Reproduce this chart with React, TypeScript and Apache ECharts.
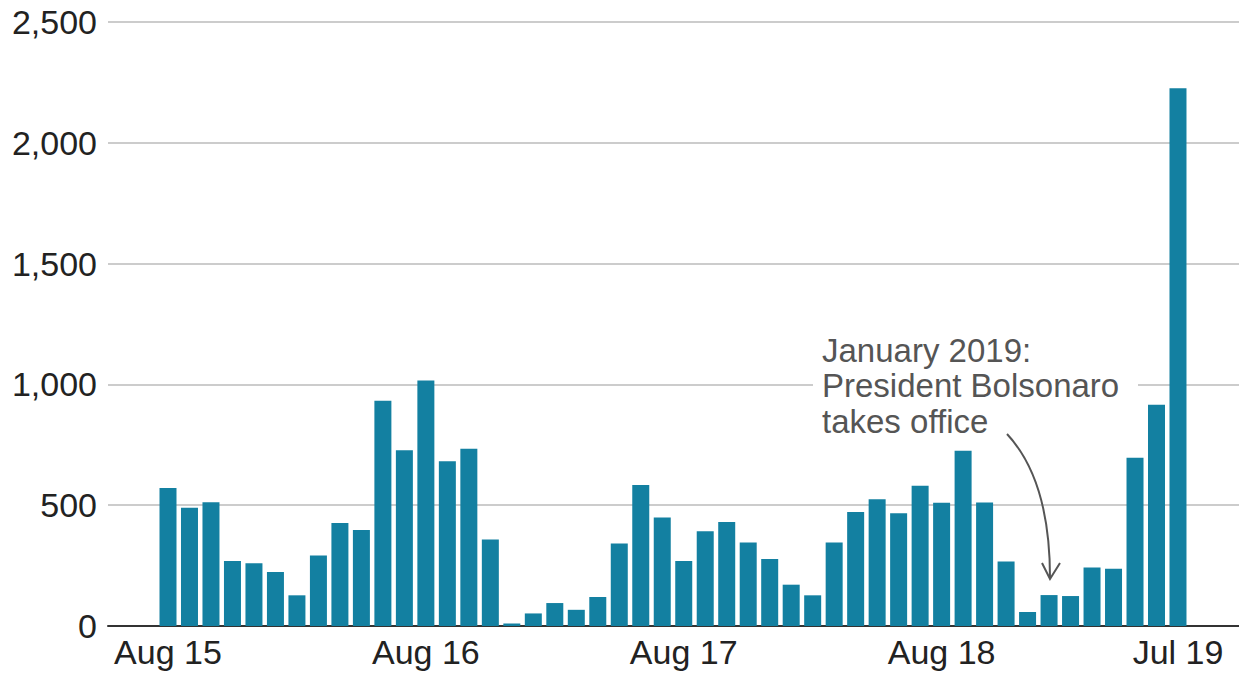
import React, { useEffect, useRef } from "react";
import * as echarts from "echarts";

const values: number[] = [
  571, 489, 512, 269, 260, 223, 127, 292, 426, 397, 932, 727, 1016, 682, 734, 358,
  10, 52, 95, 67, 120, 341, 584, 449, 269, 392, 430, 346, 277, 171, 127, 346,
  472, 525, 467, 581, 510, 725, 511, 267, 58, 128, 124, 242, 237, 696, 916, 2226,
];
const tickIndices: number[] = [0, 12, 24, 36, 47];
const tickLabels: string[] = ["Aug 15", "Aug 16", "Aug 17", "Aug 18", "Jul 19"];
const yTicks: number[] = [0, 500, 1000, 1500, 2000, 2500];
const annotationLines: string[] = ["January 2019:", "President Bolsonaro", "takes office"];

const FONT = "'Liberation Sans', Arial, Helvetica, sans-serif";

export default function App() {
  const ref = useRef<HTMLDivElement>(null);
  useEffect(() => {
    if (!ref.current) return;
    const chart = echarts.init(ref.current, undefined, { renderer: "svg" });
    const option: any = {
      animation: false,
      backgroundColor: "#ffffff",
      grid: { left: 108, right: 0, top: 22, bottom: 48, containLabel: false },
      xAxis: {
        type: "value",
        min: -2.792,
        max: 49.839,
        splitLine: { show: false },
        axisTick: { show: false },
        axisLine: { show: true, onZero: false, lineStyle: { color: "#333333", width: 2 } },
        axisLabel: {
          customValues: tickIndices,
          formatter: (v: number) => {
            const k = tickIndices.indexOf(Math.round(v));
            return k >= 0 ? tickLabels[k] : "";
          },
          color: "#222222",
          fontSize: 34,
          fontFamily: FONT,
          margin: 9,
        },
      },
      yAxis: {
        type: "value",
        min: 0,
        max: 2500,
        interval: 500,
        axisLine: { show: false },
        axisTick: { show: false },
        splitLine: { show: true, lineStyle: { color: "#cccccc", width: 2 } },
        axisLabel: {
          color: "#222222",
          fontSize: 34,
          fontFamily: FONT,
          margin: 11,
          padding: [4, 0, 0, 0],
          formatter: (v: number) => (yTicks.includes(v) ? v.toLocaleString("en-US") : ""),
        },
      },
      series: [
        {
          type: "bar",
          data: values.map((v, i) => [i, v]),
          barWidth: 17,
          itemStyle: { color: "#1380a1" },
          z: 3,
        },
      ],
      graphic: [
        {
          type: "rect",
          shape: { x: 813, y: 340, width: 325, height: 92 },
          style: { fill: "#ffffff" },
          z: 10,
        },
        ...annotationLines.map((t, i) => ({
          type: "text",
          x: 822,
          y: 350 + i * 35.5,
          style: {
            text: t,
            fill: "#555555",
            fontSize: 33,
            fontFamily: FONT,
            textVerticalAlign: "middle",
            verticalAlign: "middle",
          },
          z: 11,
        })),
        {
          type: "bezierCurve",
          shape: { x1: 1007, y1: 434, x2: 1050, y2: 578, cpx1: 1050, cpy1: 480 },
          style: { stroke: "#555555", lineWidth: 2, fill: "none" },
          z: 11,
        },
        {
          type: "polyline",
          shape: { points: [[1042, 563], [1050, 579], [1060, 563]] },
          style: { stroke: "#555555", lineWidth: 2, fill: "none" },
          z: 11,
        },
      ],
    };
    chart.setOption(option);
    return () => chart.dispose();
  }, []);
  return (
    <div
      ref={ref}
      style={{ position: "fixed", left: 0, top: 0, width: 1239, height: 674, background: "#fff" }}
    />
  );
}
